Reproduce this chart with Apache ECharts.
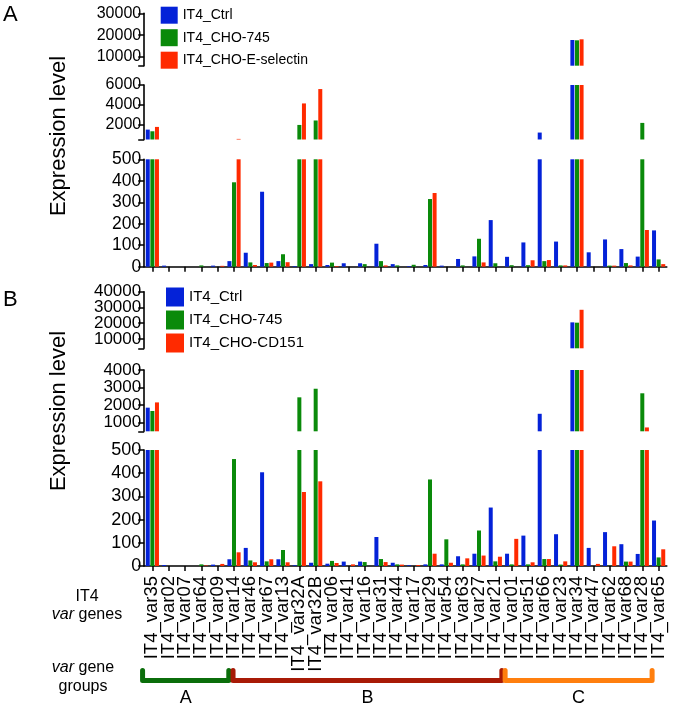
<!DOCTYPE html>
<html><head><meta charset="utf-8">
<script src="https://cdn.jsdelivr.net/npm/echarts@6/dist/echarts.min.js"></script>
<style>html,body{margin:0;padding:0;background:#fff}#c{width:675px;height:710px}</style>
</head><body><div id="c"></div>
<script>
const categories = ['IT4_var35','IT4_var02','IT4_var07','IT4_var64','IT4_var09','IT4_var14','IT4_var46','IT4_var67','IT4_var13','IT4_var32A','IT4_var32B','IT4_var06','IT4_var41','IT4_var16','IT4_var31','IT4_var44','IT4_var17','IT4_var29','IT4_var54','IT4_var63','IT4_var27','IT4_var21','IT4_var01','IT4_var51','IT4_var66','IT4_var23','IT4_var34','IT4_var47','IT4_var62','IT4_var68','IT4_var28','IT4_var65'];
const groupLabels = ['A','B','C'];
const groupFirst = [0, 5, 22];
const groupLast = [4, 21, 31];
const namesA = ['IT4_Ctrl','IT4_CHO-745','IT4_CHO-E-selectin'];
const namesB = ['IT4_Ctrl','IT4_CHO-745','IT4_CHO-CD151'];
// Panel A
const ctrlA = [1500,5,0,0,5,26,65,349,26,3,12,8,16,16,107,12,3,8,5,36,48,217,46,113,1200,117,17770,67,127,82,47,169];
const cho745A = [1330,0,0,6,0,393,20,17,58,1970,2420,19,0,12,26,6,9,315,0,6,130,16,7,7,26,6,17630,0,5,17,2175,34];
const eselA = [1770,0,0,0,4,560,8,19,21,4140,5590,3,0,0,6,0,0,343,0,0,20,0,0,30,31,6,18090,0,5,6,171,12];
// Panel B
const ctrlB = [1850,4,0,0,6,29,78,404,29,3,14,10,19,19,125,14,3,7,7,42,53,252,53,131,1500,137,20500,78,146,94,52,196];
const cho745B = [1660,0,0,7,0,461,24,20,69,2440,2930,22,0,17,30,7,0,373,115,7,153,20,7,7,30,6,20300,0,1,19,2670,37];
const cd151B = [2150,0,0,2,9,59,16,29,16,319,365,13,7,0,17,6,4,53,14,33,45,40,117,16,30,20,28500,9,85,19,720,72];
// axis segments: [min, max] and labelled values
const segA = [[6000,30000],[500,6000],[0,500]];
const segB = [[4000,40000],[500,4000],[0,500]];
const ticksA = [[10000,20000,30000],[2000,4000,6000],[0,100,200,300,400,500]];
const ticksB = [[10000,20000,30000,40000],[1000,2000,3000,4000],[0,100,200,300,400,500]];

const colors = ['#0422d8','#0a8a0a','#ff2a00'];
const FONT = 'Liberation Sans, Arial, sans-serif';
// grid pixel layout [top, height]
const gridBoxes = [[13.3,52.4],[85,54.5],[159.3,107.4],[291.7,56.6],[370,61.3],[450,116]];
const labelSizes = [16,16,17.5,17,17,18];
const LEFT = 144.2, WIDTH = 522.6;

function labelStyle(size, values) {
  return {fontSize: size, lineHeight: 12, color: '#000', fontFamily: FONT, margin: 3,
    customValues: values, hideOverlap: false, showMinLabel: true, showMaxLabel: true,
    formatter: v => String(v)};
}

const grids = [], xAxes = [], yAxes = [], series = [];
for (let g = 0; g < 6; g++) {
  const seg = (g < 3 ? segA : segB)[g % 3];
  const ticks = (g < 3 ? ticksA : ticksB)[g % 3];
  const isBottom = g % 3 === 2;
  grids.push({left: LEFT, width: WIDTH, top: gridBoxes[g][0], height: gridBoxes[g][1], containLabel: false});
  xAxes.push({
    type: 'category', gridIndex: g, data: categories, show: isBottom,
    axisLine: {show: true, lineStyle: {color: '#000', width: 1.6}},
    axisTick: {show: true, alignWithLabel: true, length: 5, lineStyle: {color: '#000', width: 1.5}},
    axisLabel: {show: g === 5, rotate: 90, interval: 0, fontSize: 18.5, color: '#000', fontFamily: FONT, margin: 10}
  });
  const tickVals = seg[0] === 0 ? ticks : [seg[0]].concat(ticks);
  // dense top segment of panel B: alternate labels split over two coincident axes
  const labelVals = g === 3 ? ticks.filter((v, i) => i % 2 === 0) : ticks;
  yAxes.push({
    type: 'value', gridIndex: g, min: seg[0], max: seg[1],
    axisLine: {show: true, lineStyle: {color: '#000', width: 1.6}},
    axisTick: {show: true, length: 6, lineStyle: {color: '#000', width: 1.5}, customValues: tickVals},
    axisLabel: labelStyle(labelSizes[g], labelVals),
    splitLine: {show: false}
  });
  const names = g < 3 ? namesA : namesB;
  const data = g < 3 ? [ctrlA, cho745A, eselA] : [ctrlB, cho745B, cd151B];
  for (let s = 0; s < 3; s++) {
    series.push({
      type: 'bar', name: names[s], xAxisIndex: g, yAxisIndex: g,
      data: data[s], barWidth: 4, barGap: '15%', clip: true,
      itemStyle: {color: colors[s]}, emphasis: {disabled: true}
    });
  }
}
yAxes.push({
  type: 'value', gridIndex: 3, min: segB[0][0], max: segB[0][1], position: 'left', offset: 0,
  axisLine: {show: false}, axisTick: {show: false}, splitLine: {show: false},
  axisLabel: labelStyle(labelSizes[3], ticksB[0].filter((v, i) => i % 2 === 1))
});

const chart = echarts.init(document.getElementById('c'), null, {renderer: 'canvas'});
chart.setOption({
  animation: false,
  color: colors,
  grid: grids, xAxis: xAxes, yAxis: yAxes, series: series,
  legend: [
    {orient: 'vertical', left: 160.7, top: 6.7, padding: 0, itemWidth: 17, itemHeight: 17, itemGap: 5.5, icon: 'rect',
     data: namesA, textStyle: {fontSize: 14, color: '#000', fontFamily: FONT}},
    {orient: 'vertical', left: 166, top: 287.5, padding: 0, itemWidth: 18, itemHeight: 19, itemGap: 4, icon: 'rect',
     data: namesB, textStyle: {fontSize: 15, color: '#000', fontFamily: FONT}}
  ]
});

// annotations positioned through the category axis
const band = WIDTH / categories.length;
const px = i => chart.convertToPixel({xAxisIndex: 5}, categories[i]);
const groupColors = ['#0b6e0b','#a81a06','#ff7f0e'];
const startOff = [-0.6, -0.06, -0.4];
const endOff = [0.68, 0.4, -0.4];
const graphics = [];
for (let k = 0; k < 3; k++) {
  const x0 = px(groupFirst[k]) + band * startOff[k];
  const x1 = px(groupLast[k]) + band * endOff[k];
  graphics.push({type: 'polyline', shape: {points: [[x0, 670.5], [x0, 680.5], [x1, 680.5], [x1, 670.5]]},
    style: {stroke: groupColors[k], lineWidth: 5, fill: null, lineJoin: 'round', lineCap: 'round'}});
  graphics.push({type: 'text', x: (x0 + x1) / 2, y: 698,
    style: {text: groupLabels[k], font: '18px ' + FONT, fill: '#000', textAlign: 'center', textVerticalAlign: 'middle'}});
}
graphics.push({type: 'text', x: 3, y: 15, style: {text: 'A', font: '22px ' + FONT, fill: '#000', textVerticalAlign: 'middle'}});
graphics.push({type: 'text', x: 3, y: 299.5, style: {text: 'B', font: '22px ' + FONT, fill: '#000', textVerticalAlign: 'middle'}});
graphics.push({type: 'text', x: 59, y: 136, rotation: Math.PI / 2,
  style: {text: 'Expression level', font: '22px ' + FONT, fill: '#000', textAlign: 'center', textVerticalAlign: 'middle'}});
graphics.push({type: 'text', x: 59, y: 411, rotation: Math.PI / 2,
  style: {text: 'Expression level', font: '22px ' + FONT, fill: '#000', textAlign: 'center', textVerticalAlign: 'middle'}});
graphics.push({type: 'text', x: 87, y: 596.5, style: {text: 'IT4', font: '16px ' + FONT, fill: '#000', textAlign: 'center', textVerticalAlign: 'middle'}});
graphics.push({type: 'text', x: 87, y: 615, style: {
  text: '{i|var} genes', textAlign: 'center', textVerticalAlign: 'middle', font: '16px ' + FONT, fill: '#000',
  rich: {i: {fontStyle: 'italic', fontSize: 16, fontFamily: FONT, fill: '#000'}}}});
graphics.push({type: 'text', x: 83, y: 668, style: {
  text: '{i|var} gene', textAlign: 'center', textVerticalAlign: 'middle', font: '16px ' + FONT, fill: '#000',
  rich: {i: {fontStyle: 'italic', fontSize: 16, fontFamily: FONT, fill: '#000'}}}});
graphics.push({type: 'text', x: 83, y: 687, style: {text: 'groups', font: '16px ' + FONT, fill: '#000', textAlign: 'center', textVerticalAlign: 'middle'}});
chart.setOption({graphic: graphics});
</script>
</body></html>
